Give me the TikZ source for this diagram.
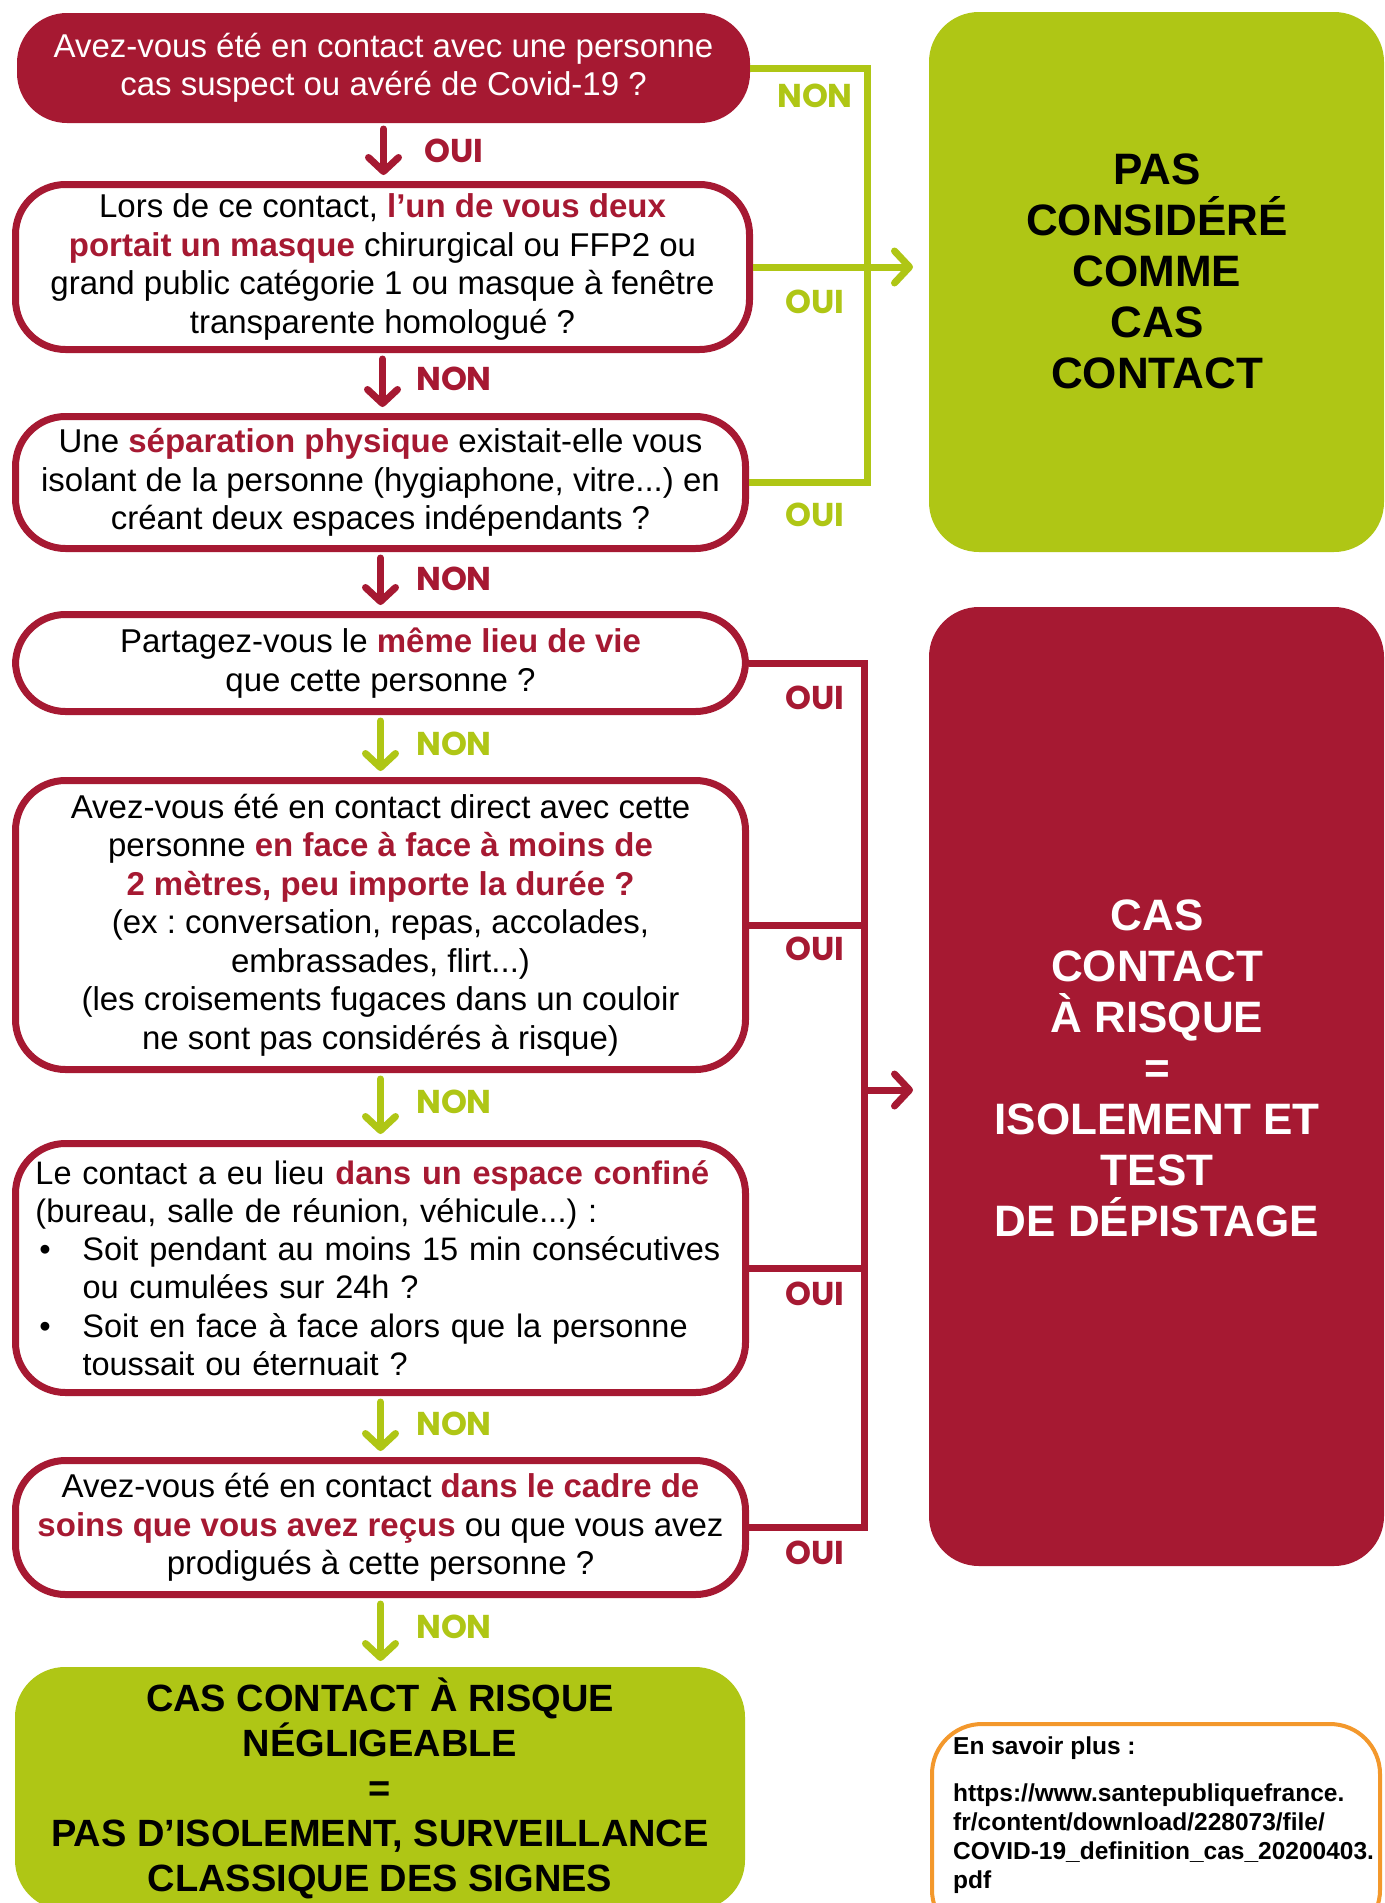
\documentclass[tikz,border=0pt]{standalone}
\usepackage{fontspec}
\setmainfont{Liberation Sans}
\newfontfamily\lblfont{Poppins}
\usetikzlibrary{arrows.meta}
\definecolor{cred}{RGB}{166,25,50}
\definecolor{cgreen}{RGB}{175,198,21}
\definecolor{corange}{RGB}{243,152,44}
\newcommand\redbf[1]{\textcolor{cred}{\bfseries #1}}
\frenchspacing
\begin{document}
\begin{tikzpicture}[x=1pt,y=-1pt,
 qbox/.style={draw=cred,line width=7pt,fill=white,rounded corners=50pt,inner sep=0pt,align=center,font=\fontsize{33}{38.5}\selectfont,minimum width=730pt},
 endbox/.style={rounded corners=50pt,inner sep=0pt,outer sep=0pt,draw=none},
 bigtxt/.style={font=\fontsize{44}{51}\selectfont\bfseries,align=center,inner sep=0pt},
 lbl/.style={font=\lblfont\fontsize{33}{33}\selectfont\bfseries,inner sep=0pt},
 tipstyle/.style={-{Straight Barb[length=14pt,width=30pt,round]}},
 rarr/.style={draw=cred,line width=7pt,tipstyle,line cap=round,shorten <=6pt,shorten >=6pt},
 garr/.style={draw=cgreen,line width=7pt,tipstyle,line cap=round,shorten <=6pt,shorten >=6pt},
 gline/.style={draw=cgreen,line width=7pt},
 rline/.style={draw=cred,line width=7pt},
 harr/.style={line width=7pt,-{Straight Barb[length=15pt,width=32pt,round]}}
]
\useasboundingbox (0,0) rectangle (1384,1903);
\clip (0,0) rectangle (1384,1903);
\fill[white] (0,0) rectangle (1384,1903);

% question boxes
\node[endbox,fill=cred,text=white,minimum width=733pt,minimum height=110pt,align=center,font=\fontsize{33}{38.5}\selectfont] (b1) at (383.5,68)
 {Avez-vous été en contact avec une personne\\cas suspect ou avéré de Covid-19 ?};

\node[qbox,minimum width=734pt,minimum height=165pt] (b2) at (382.5,267)
 {Lors de ce contact, \redbf{l’un de vous deux}\\\redbf{portait un masque} chirurgical ou FFP2 ou\\grand public catégorie 1 ou masque à fenêtre\\transparente homologué ?};

\node[qbox,minimum height=132pt] (b3) at (380.5,482.5)
 {Une \redbf{séparation physique} existait-elle vous\\isolant de la personne (hygiaphone, vitre...) en\\créant deux espaces indépendants ?};

\node[qbox,minimum height=97pt] (b4) at (380.5,663)
 {Partagez-vous le \redbf{même lieu de vie}\\que cette personne ?};

\node[qbox,minimum height=289pt] (b5) at (380.5,925)
 {Avez-vous été en contact direct avec cette\\personne \redbf{en face à face à moins de}\\\redbf{2 mètres, peu importe la durée ?}\\(ex : conversation, repas, accolades,\\embrassades, flirt...)\\(les croisements fugaces dans un couloir\\ne sont pas considérés à risque)};

\node[qbox,minimum height=249pt,align=left,text width=700pt,inner xsep=15pt,font=\fontsize{32.5}{38.3}\selectfont] (b6) at (380.5,1268)
 {\hspace*{5pt}Le contact a eu lieu \redbf{dans un espace confiné}\\
  \hspace*{5pt}(bureau, salle de réunion, véhicule...) :\\
  \hspace*{9pt}\makebox[43pt][l]{•}Soit pendant au moins 15 min consécutives\\
  \hspace*{52pt}ou cumulées sur 24h ?\\
  \hspace*{9pt}\makebox[43pt][l]{•}Soit en face à face alors que la personne\\
  \hspace*{52pt}toussait ou éternuait ?};

\node[qbox,minimum height=134pt] (b7) at (380.5,1527.5)
 {Avez-vous été en contact \redbf{dans le cadre de}\\\redbf{soins que vous avez reçus} ou que vous avez\\prodigués à cette personne ?};

\node[endbox,fill=cgreen,minimum width=730pt,minimum height=243pt,align=center,font=\fontsize{38}{45}\selectfont\bfseries] (b8) at (380,1788.5)
 {CAS CONTACT À RISQUE\\NÉGLIGEABLE\\=\\PAS D’ISOLEMENT, SURVEILLANCE\\CLASSIQUE DES SIGNES};

% outcome boxes
\node[endbox,fill=cgreen,minimum width=455pt,minimum height=540pt] (pas) at (1156.5,282) {};
\node[bigtxt] (pastxt) at (1157,271) {PAS\\CONSIDÉRÉ\\COMME\\CAS\\CONTACT};

\node[endbox,fill=cred,minimum width=455pt,minimum height=959pt] (risk) at (1156.5,1086.5) {};
\node[bigtxt,text=white] (risktxt) at (1157,1068) {CAS\\CONTACT\\À RISQUE\\=\\ISOLEMENT ET\\TEST\\DE DÉPISTAGE};

\node[draw=corange,line width=4pt,fill=white,rounded corners=50pt,minimum width=448pt,minimum height=216pt,inner sep=0pt] (more) at (1156,1832) {};
\node[anchor=north west,inner sep=0pt,align=left,font=\fontsize{24.5}{29}\selectfont\bfseries] (moretxt) at (953,1737)
 {En savoir plus :\\[18pt]https://www.santepubliquefrance.\\fr/content/download/228073/file/\\COVID-19\_definition\_cas\_20200403.\\pdf};

% vertical arrows
\draw[rarr] (b1.south) -- (b1.south |- b2.north);
\draw[rarr] (b2.south) -- (b2.south |- b3.north);
\draw[rarr] (b3.south) -- (b3.south |- b4.north);
\draw[garr] (b4.south) -- (b4.south |- b5.north);
\draw[garr] (b5.south) -- (b5.south |- b6.north);
\draw[garr] (b6.south) -- (b6.south |- b7.north);
\draw[garr] (b7.south) -- (b7.south |- b8.north);

% labels of vertical arrows
\node[lbl,text=cred] (l1) at (454,151) {OUI};
\node[lbl,text=cred] (l2) at (454,379) {NON};
\node[lbl,text=cred] (l3) at (454,579) {NON};
\node[lbl,text=cgreen] (l4) at (454,744) {NON};
\node[lbl,text=cgreen] (l5) at (454,1102) {NON};
\node[lbl,text=cgreen] (l6) at (454,1424) {NON};
\node[lbl,text=cgreen] (l7) at (454,1627) {NON};

% green connectors
\coordinate (gx) at (867,0);
\draw[gline] (b1.east) -| (gx |- b3.east) -- (b3.east);
\draw[gline] (b2.east) -- (gx |- b2.east);
\draw[gline,harr] (gx |- b2.east) -- ([xshift=-16pt]pas.west |- b2.east);

% red connectors
\coordinate (rx) at (864,0);
\draw[rline] (b4.east) -| (rx |- b7.east) -- (b7.east);
\draw[rline] (b5.east) -- (rx |- b5.east);
\draw[rline] (b6.east) -- (rx |- b6.east);
\coordinate (rmid) at (864,1090);
\draw[rline,harr] (rmid) -- ([xshift=-16pt]risk.west |- rmid);

% right labels
\node[lbl,text=cgreen] (r1) at (815,96) {NON};
\node[lbl,text=cgreen] (r2) at (815,302) {OUI};
\node[lbl,text=cgreen] (r3) at (815,515) {OUI};
\node[lbl,text=cred] (r4) at (815,698) {OUI};
\node[lbl,text=cred] (r5) at (815,949) {OUI};
\node[lbl,text=cred] (r6) at (815,1294) {OUI};
\node[lbl,text=cred] (r7) at (815,1553) {OUI};
\end{tikzpicture}
\end{document}
